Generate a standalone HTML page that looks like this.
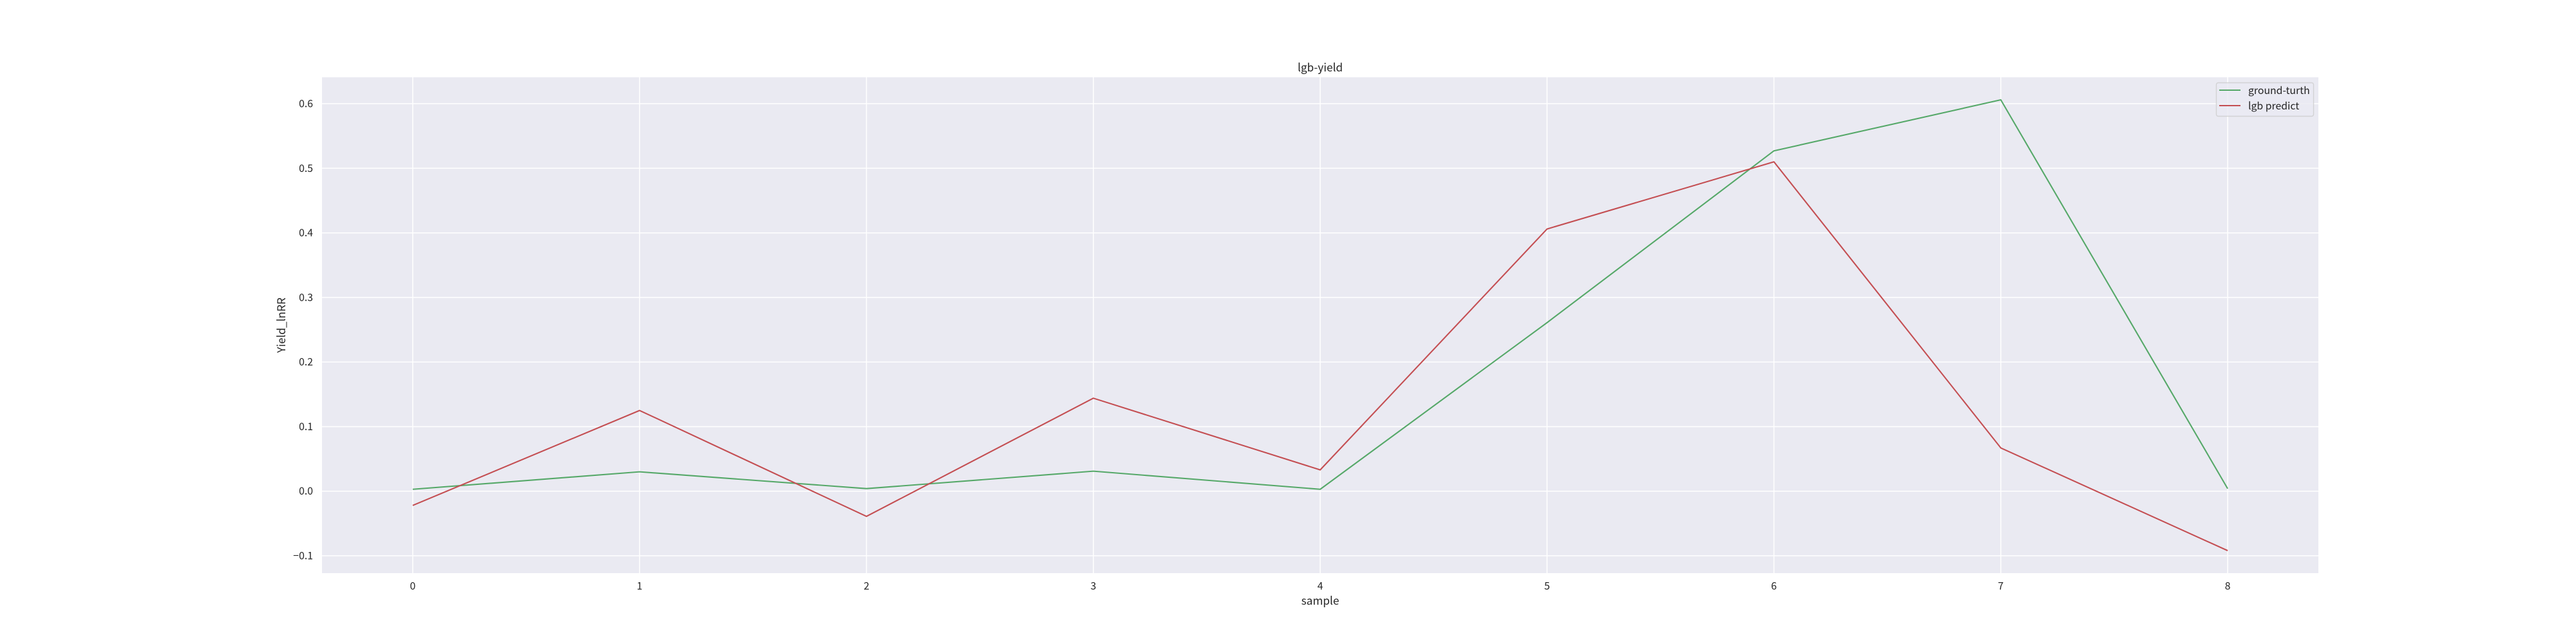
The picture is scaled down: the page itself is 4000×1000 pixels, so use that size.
<!DOCTYPE html>
<html lang="en">
<head>
<meta charset="utf-8">
<title>lgb-yield</title>
<style>
html,body{margin:0;padding:0;background:#fff;width:4000px;height:1000px;overflow:hidden}
svg{display:block}
text{font-family:"Noto Sans CJK SC","Liberation Sans",sans-serif;fill:#262626}
</style>
</head>
<body>
<svg id="chart" xmlns="http://www.w3.org/2000/svg" width="4000" height="1000" viewBox="0 0 4000 1000">
  <rect x="0" y="0" width="4000" height="1000" fill="#ffffff"/>
  <rect x="500" y="120" width="3100" height="770" fill="#eaeaf2"/>
  <g id="grid"></g>
  <g id="series"></g>
  <g id="ticks"></g>
  <text x="2050" y="111" font-size="17.2" text-anchor="middle">lgb-yield</text>
  <text x="2050" y="939" font-size="17.2" text-anchor="middle">sample</text>
  <text transform="translate(443,505) rotate(-90)" font-size="17.2" text-anchor="middle">Yield_lnRR</text>
  <g id="legend">
    <rect x="3441.5" y="128.5" width="151" height="52" rx="3" ry="3" fill="#eaeaf2" fill-opacity="0.8" stroke="#cccccc" stroke-opacity="0.8" stroke-width="1.4"/>
    <line x1="3446" x2="3479" y1="140" y2="140" stroke="#55a868" stroke-width="2.08"/>
    <text x="3491" y="146" font-size="15.8">ground-turth</text>
    <line x1="3446" x2="3479" y1="164" y2="164" stroke="#c44e52" stroke-width="2.08"/>
    <text x="3491" y="170" font-size="15.8">lgb predict</text>
  </g>
</svg>
<script>
const samples = [0, 1, 2, 3, 4, 5, 6, 7, 8];
const groundTruth = [0.003, 0.030, 0.004, 0.031, 0.003, 0.261, 0.527, 0.606, 0.004];
const lgbPredict = [-0.022, 0.125, -0.039, 0.144, 0.033, 0.406, 0.510, 0.067, -0.092];
const yTicks = [-0.1, 0.0, 0.1, 0.2, 0.3, 0.4, 0.5, 0.6];
const xTicks = [0, 1, 2, 3, 4, 5, 6, 7, 8];

const NS = 'http://www.w3.org/2000/svg';
const plotLeft = 500, plotRight = 3600, plotTop = 120, plotBottom = 890;

const allValues = groundTruth.concat(lgbPredict);
const dataMin = Math.min.apply(null, allValues);
const dataMax = Math.max.apply(null, allValues);
const yPad = (dataMax - dataMin) * 0.05;
const yLow = dataMin - yPad, yHigh = dataMax + yPad;
const xFirst = samples[0], xLast = samples[samples.length - 1];
const xPad = (xLast - xFirst) * 0.05;

function xScale(v) {
  return plotLeft + (v - xFirst + xPad) / (xLast - xFirst + 2 * xPad) * (plotRight - plotLeft);
}
function yScale(v) {
  return plotBottom - (v - yLow) / (yHigh - yLow) * (plotBottom - plotTop);
}
function make(tag, attrs, parent) {
  const el = document.createElementNS(NS, tag);
  Object.keys(attrs).forEach(function (k) { el.setAttribute(k, attrs[k]); });
  parent.appendChild(el);
  return el;
}

const gridGroup = document.getElementById('grid');
const tickGroup = document.getElementById('ticks');
const seriesGroup = document.getElementById('series');

yTicks.forEach(function (t) {
  const y = yScale(t);
  const line = make('line', {x1: plotLeft, x2: plotRight, y1: y, y2: y, stroke: '#ffffff', 'stroke-width': 1.5}, gridGroup);
  
  
  const label = make('text', {x: 486, y: y + 5.5, 'font-size': 15.8, 'text-anchor': 'end'}, tickGroup);
  label.textContent = (t < 0 ? '\u2212' : '') + Math.abs(t).toFixed(1);
  
  
});

xTicks.forEach(function (t) {
  const x = xScale(t);
  const line = make('line', {x1: x, x2: x, y1: plotTop, y2: plotBottom, stroke: '#ffffff', 'stroke-width': 1.5}, gridGroup);
  
  
  const label = make('text', {x: x, y: 915.5, 'font-size': 15.8, 'text-anchor': 'middle'}, tickGroup);
  label.textContent = String(t);
  
  
});

function pathFor(values) {
  return values.map(function (v, i) {
    return xScale(samples[i]).toFixed(2) + ',' + yScale(v).toFixed(2);
  }).join(' ');
}

const greenLine = make('polyline', {points: pathFor(groundTruth), fill: 'none', stroke: '#55a868', 'stroke-width': 2.08, 'stroke-linejoin': 'round'}, seriesGroup);



const redLine = make('polyline', {points: pathFor(lgbPredict), fill: 'none', stroke: '#c44e52', 'stroke-width': 2.08, 'stroke-linejoin': 'round'}, seriesGroup);


</script>
</body>
</html>
